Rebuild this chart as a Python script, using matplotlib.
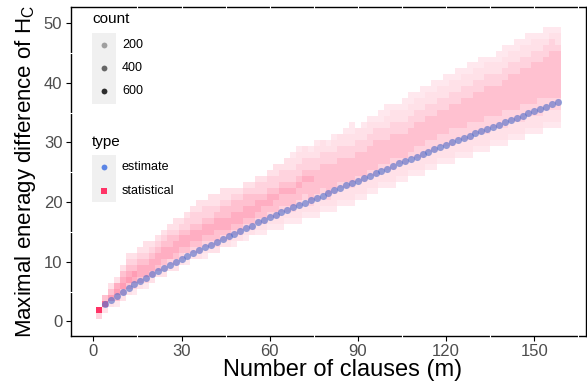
import numpy as np
import matplotlib.pyplot as plt
from matplotlib.patches import Rectangle

# estimate points (m, max energy difference)
est_m = list(range(4, 160, 2))
est_h = [2.9, 3.6, 4.3, 4.95, 5.65, 6.3, 6.8, 7.35, 7.9, 8.45,
         8.95, 9.45, 9.95, 10.45, 10.95, 11.45, 11.95, 12.4, 12.85, 13.3,
         13.8, 14.25, 14.7, 15.2, 15.6, 16.05, 16.6, 17.0, 17.5, 17.9,
         18.3, 18.7, 19.1, 19.5, 19.9, 20.3, 20.7, 21.1, 21.55, 22.0,
         22.4, 22.8, 23.2, 23.6, 24.0, 24.4, 24.85, 25.2, 25.6, 26.0,
         26.5, 26.9, 27.25, 27.6, 28.0, 28.4, 28.9, 29.3, 29.6, 30.0,
         30.4, 30.75, 31.1, 31.5, 31.9, 32.25, 32.6, 33.0, 33.4, 33.75,
         34.1, 34.5, 34.85, 35.2, 35.6, 35.95, 36.4, 36.8]

# statistical tiles: one column per m, lowest row index + count levels going up
stat_m = list(range(2, 160, 2))
stat_lo = [0, 1, 2, 2, 3, 4, 4, 5, 5, 6,
           7, 7, 8, 8, 9, 9, 10, 10, 10, 11,
           11, 12, 12, 12, 13, 13, 14, 14, 14, 15,
           15, 15, 16, 16, 16, 17, 17, 17, 18, 18,
           18, 19, 19, 19, 20, 20, 21, 21, 22, 22,
           22, 23, 23, 24, 24, 24, 25, 25, 26, 26,
           26, 27, 27, 27, 28, 28, 28, 29, 29, 29,
           30, 30, 30, 31, 31, 31, 32, 32, 32]
stat_levels = [
    "29", "173", "1531", "03541", "135431", "1354321", "0245321", "1344321", "02443211", "1344321",
    "1344321", "12344321", "12443321", "123443211", "12344321", "013443221", "123443221", "1234432211", "0123443221", "1234432211",
    "1233443211", "1234433211", "1234433211", "0123443321", "123443321", "0123443321", "123443321", "0123443221", "0123343221", "0123443221",
    "01233432211", "01123343221", "01233432211", "012334322110", "0112334322110", "011233432211", "012333432210", "0112333322110", "011233332211", "012333332210",
    "0112333322110", "011233332211", "0112333322110", "01123333221100", "011233332211", "0112333322110", "0112333322110", "0112333332210", "0112333322100", "01123333221100",
    "01122333322110", "0112333322110", "01123333221100", "01123333221100", "01122333322110", "011223333221100", "01122333322110", "011223333221100", "01122333322110", "011223333221100",
    "011222333322110", "011223333221100", "011223333322110", "0112223333221100", "011223333322110", "0112233333221100", "0112223333322110", "011223333322110", "0112233333221100", "01122233333221100",
    "0112233333322110", "01122333333221100", "01122233333322110", "01122333333221100", "01122333333322110", "01122233333322110", "01122333333322100", "01122333333332210", "01122333333332110",
]
# count that each level stands for
level_count = [8, 40, 100, 170, 250, 320, 420, 520, 620, 760]

count_max = 760
pink = np.array([1.0, 0.2, 0.4])

plt.rcParams['font.family'] = ['Liberation Sans', 'DejaVu Sans']
plt.rcParams['mathtext.fontset'] = 'custom'
plt.rcParams['mathtext.rm'] = 'Liberation Sans'

W, H = 587, 385
fig = plt.figure(figsize=(W / 100, H / 100), dpi=100)
ax = fig.add_axes([70.7 / W, 1 - 335.7 / H, (585.7 - 70.7) / W, (335.7 - 7.3) / H])

def count_alpha(cnt):
    return 0.1 + 0.9 * (cnt - 1) / (count_max - 1)

# tiles
tx, ty, tc = [], [], []
for m, lo, lev in zip(stat_m, stat_lo, stat_levels):
    for i, ch in enumerate(lev):
        if ch == '.':
            continue
        tx.append(m)
        ty.append(lo + i + 0.4)
        tc.append((*pink, count_alpha(level_count[int(ch)])))
ax.bar(tx, 1.0, width=2.0, bottom=ty, color=tc, linewidth=0, align='center',
       antialiased=False, zorder=2)

ax.scatter(est_m, est_h, s=26, color='#4F6BC8', alpha=0.6, linewidths=0, zorder=3)

ax.set_xlim(-7.7, 167.5)
ax.set_ylim(-2.4, 52.65)
ax.set_xticks([0, 30, 60, 90, 120, 150])
ax.set_yticks([0, 10, 20, 30, 40, 50])
ax.tick_params(axis='both', direction='out', length=3.5, width=0.8, color='black',
               labelsize=12, labelcolor='#4D4D4D', pad=2.5)
for s in ax.spines.values():
    s.set_linewidth(1.0)
    s.set_color('black')

# white grid marks crossing the frame, like the original
for xv in range(15, 170, 15):
    ax.plot([xv, xv], [52.3, 53.0], color='white', lw=0.8, clip_on=False, zorder=5)
for xv in range(15, 170, 30):
    ax.plot([xv, xv], [-2.75, -2.05], color='white', lw=0.8, clip_on=False, zorder=5)
for yv in range(5, 50, 10):
    ax.plot([-8.1, -7.3], [yv, yv], color='white', lw=0.8, clip_on=False, zorder=5)

ax.set_xlabel('Number of clauses (m)', fontsize=17, labelpad=1)
ax.xaxis.set_label_coords((343 - 70.7) / (585.7 - 70.7), -0.072)
ax.set_ylabel(r'Maximal eneragy difference of H$_{\mathrm{C}}$', fontsize=16, labelpad=4)

# legends drawn by hand in pixel positions
def fx(px):
    return px / W

def fy(py):
    return 1 - py / H

fig.text(fx(92), fy(19), 'count', fontsize=11, va='center', ha='left')
fig.patches.append(Rectangle((fx(92), fy(104)), fx(116) - fx(92), fy(33) - fy(104),
                             transform=fig.transFigure, facecolor='#F0F0F0', edgecolor='none'))
for cnt, py in zip([200, 400, 600], [44.7, 68, 91.3]):
    fig.lines.append(plt.Line2D([fx(104)], [fy(py)], transform=fig.transFigure, marker='o',
                                markersize=4.2, markeredgewidth=0, color='black',
                                alpha=count_alpha(cnt)))
    fig.text(fx(122), fy(py), str(cnt), fontsize=9, va='center', ha='left')

fig.text(fx(92), fy(141.5), 'type', fontsize=11, va='center', ha='left')
fig.patches.append(Rectangle((fx(92), fy(201.7)), fx(116) - fx(92), fy(155) - fy(201.7),
                             transform=fig.transFigure, facecolor='#F0F0F0', edgecolor='none'))
fig.lines.append(plt.Line2D([fx(104)], [fy(166.7)], transform=fig.transFigure, marker='o',
                            markersize=4.2, markeredgewidth=0, color='#5B85E5'))
fig.lines.append(plt.Line2D([fx(104)], [fy(190.7)], transform=fig.transFigure, marker='s',
                            markersize=5, markeredgewidth=0, color='#FF3366'))
fig.text(fx(122), fy(166.7), 'estimate', fontsize=9, va='center', ha='left')
fig.text(fx(122), fy(190.7), 'statistical', fontsize=9, va='center', ha='left')

fig.savefig('out.png', dpi=100)
